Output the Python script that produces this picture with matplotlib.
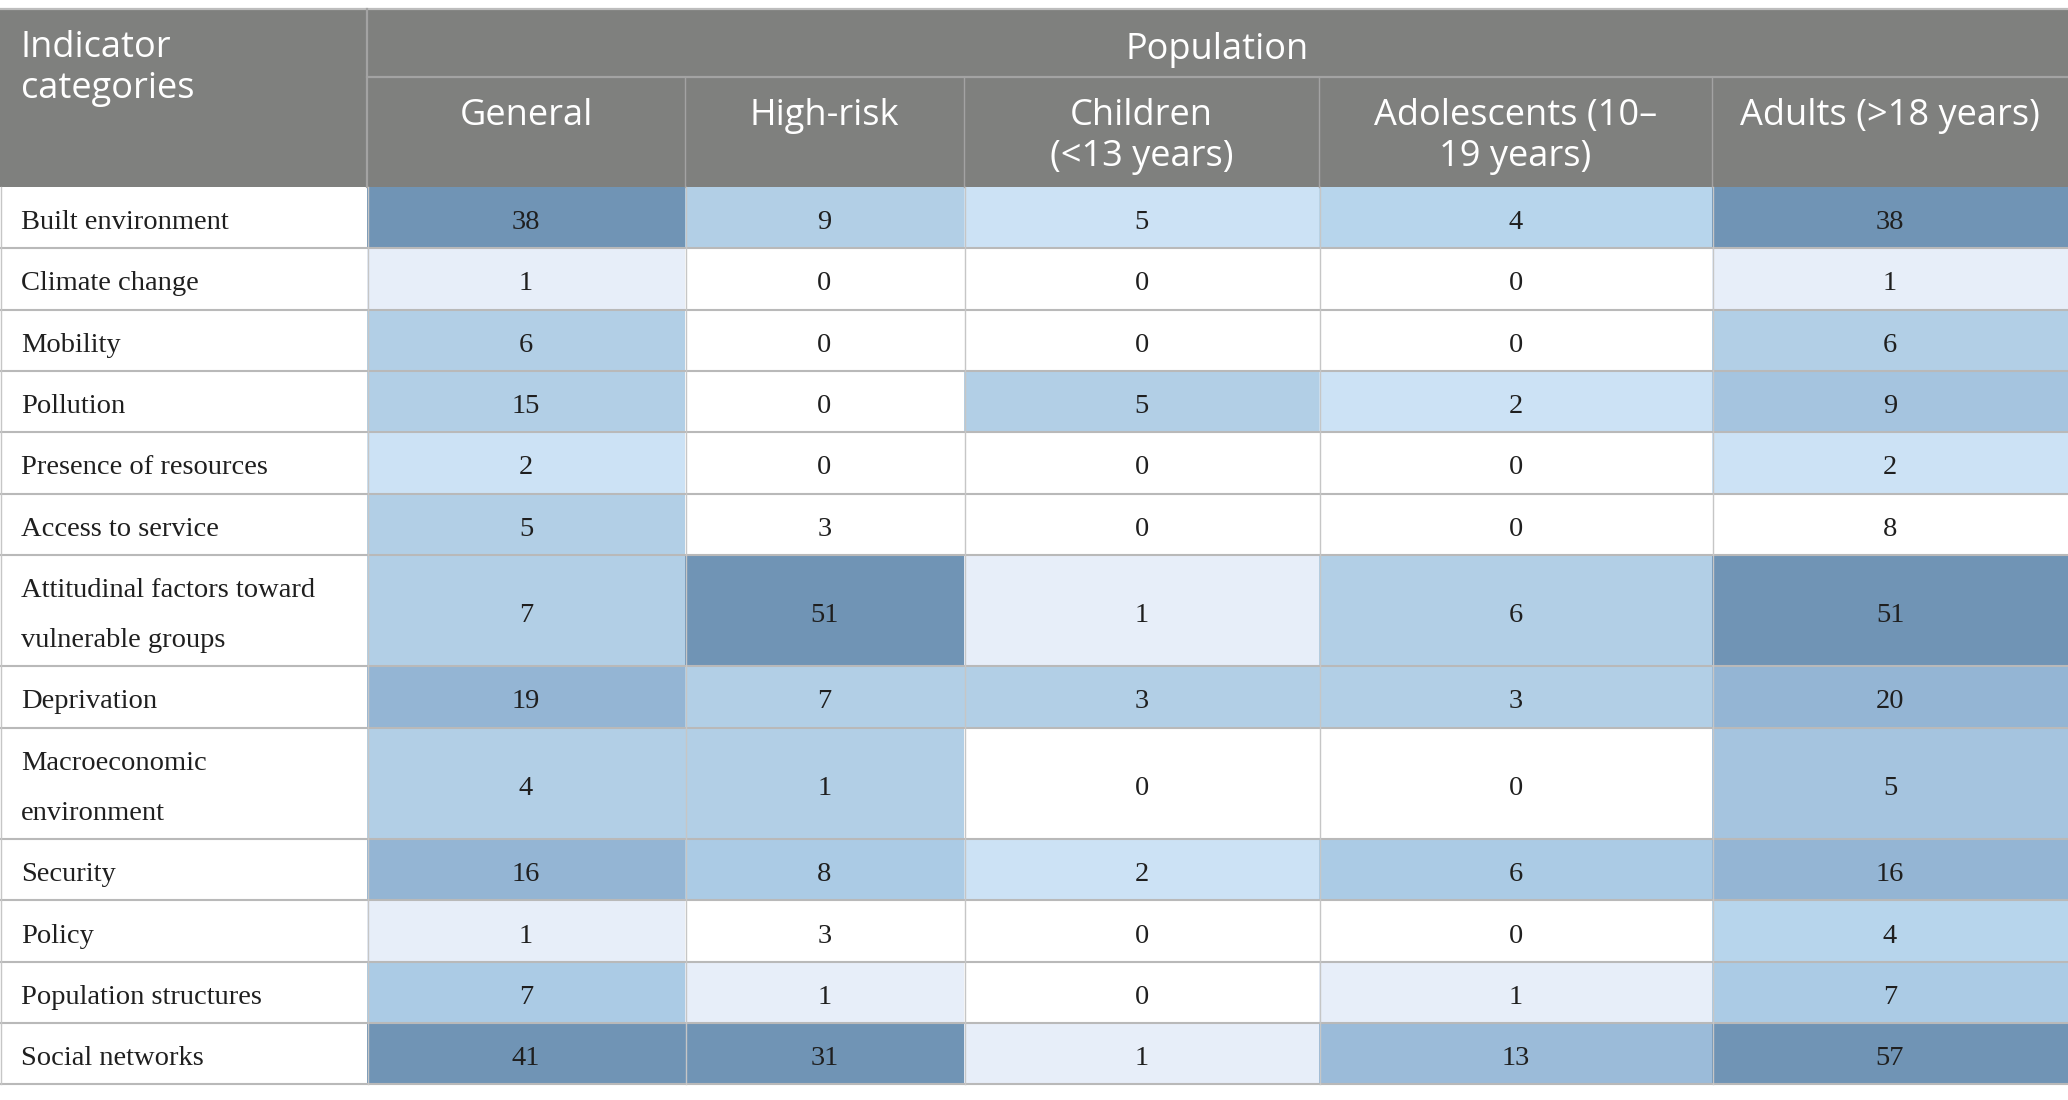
import matplotlib

matplotlib.use("Agg")

import numpy as np
import matplotlib.pyplot as plt
from matplotlib.colors import ListedColormap

# data
categories = [
    "Built environment",
    "Climate change",
    "Mobility",
    "Pollution",
    "Presence of resources",
    "Access to service",
    "Attitudinal factors toward\nvulnerable groups",
    "Deprivation",
    "Macroeconomic\nenvironment",
    "Security",
    "Policy",
    "Population structures",
    "Social networks",
]
populations = [
    "General",
    "High-risk",
    "Children\n(<13 years)",
    "Adolescents (10\u2013\n19 years)",
    "Adults (>18 years)",
]
counts = [
    [38, 9, 5, 4, 38],
    [1, 0, 0, 0, 1],
    [6, 0, 0, 0, 6],
    [15, 0, 5, 2, 9],
    [2, 0, 0, 0, 2],
    [5, 3, 0, 0, 8],
    [7, 51, 1, 6, 51],
    [19, 7, 3, 3, 20],
    [4, 1, 0, 0, 5],
    [16, 8, 2, 6, 16],
    [1, 3, 0, 0, 4],
    [7, 1, 0, 1, 7],
    [41, 31, 1, 13, 57],
]
# shading level of each cell as printed in the source table
shade = [
    [9, 4, 2, 3, 9],
    [1, 0, 0, 0, 1],
    [4, 0, 0, 0, 4],
    [4, 0, 4, 2, 6],
    [2, 0, 0, 0, 2],
    [4, 0, 0, 0, 0],
    [4, 9, 1, 4, 9],
    [7, 4, 4, 4, 7],
    [4, 4, 0, 0, 6],
    [7, 5, 2, 5, 7],
    [1, 0, 0, 0, 3],
    [5, 1, 0, 1, 5],
    [9, 9, 1, 8, 9],
]

palette = [
    "#ffffff", "#e7eef9", "#cce2f5", "#b7d5ec", "#b2cfe6",
    "#abcbe5", "#a5c4df", "#94b5d4", "#9bbbd9", "#7094b5",
]
HEADER_GRAY = "#7f807e"
SANS = ["Open Sans", "DejaVu Sans"]
SERIF = ["Liberation Serif", "DejaVu Serif"]

W, H = 2068, 1100
col_widths = [367, 318, 279, 355, 393, 356]
col_edges = np.concatenate([[0], np.cumsum(col_widths)])
top, pop_bottom, head_bottom = 9, 77, 187
row_heights = [111.5 if "\n" in c else 61.3 for c in categories]
row_edges = head_bottom + np.concatenate([[0], np.cumsum(row_heights)])

fig = plt.figure(figsize=(W / 100, H / 100), dpi=100)
ax = fig.add_axes([0, 0, 1, 1])
ax.set_xlim(0, W)
ax.set_ylim(H, 0)
ax.axis("off")

# header block
ax.fill_between([0, W], top, head_bottom, color=HEADER_GRAY, lw=0, zorder=1)
ax.plot([0, W], [top - 0.5, top - 0.5], color="#bdbdbd", lw=1.6, zorder=3)
ax.plot([col_edges[1], W], [pop_bottom, pop_bottom], color="#a3a3a3", lw=1.6, zorder=3)
ax.plot([col_edges[1]] * 2, [top, head_bottom], color="#a3a3a3", lw=1.6, zorder=3)
for x in col_edges[2:-1]:
    ax.plot([x, x], [pop_bottom, head_bottom], color="#a3a3a3", lw=1.0, zorder=3)

ax.text(21, 30, "Indicator\ncategories", family=SANS, fontsize=26, color="white",
        ha="left", va="top", linespacing=1.2, zorder=4)
ax.text((col_edges[1] + W) / 2, 50, "Population", family=SANS, fontsize=26,
        color="white", ha="center", va="center", zorder=4)
for j, label in enumerate(populations):
    cx = (col_edges[j + 1] + col_edges[j + 2]) / 2
    ax.text(cx, 98, label, family=SANS, fontsize=26, color="white",
            ha="center", va="top", linespacing=1.2, zorder=4)

# body cells
cmap = ListedColormap(palette)
ax.pcolormesh(col_edges[1:], row_edges, np.array(shade), cmap=cmap,
              vmin=-0.5, vmax=len(palette) - 0.5, zorder=1)

for i, label in enumerate(categories):
    cy = (row_edges[i] + row_edges[i + 1]) / 2 + 5
    ax.text(21, cy, label, family=SERIF, fontsize=20.5, color="#1f1f1f",
            ha="left", va="center", linespacing=2.3, zorder=4)
    for j, v in enumerate(counts[i]):
        cx = (col_edges[j + 1] + col_edges[j + 2]) / 2
        ax.text(cx, cy, str(v), family=SERIF, fontsize=20.5, color="#1f1f1f",
                ha="center", va="center", zorder=4)

# grid lines
for y in row_edges[1:]:
    ax.plot([0, W], [y, y], color="#b9b9b9", lw=1.5, zorder=3)
for x in col_edges[:-1]:
    ax.plot([x + 0.5, x + 0.5], [head_bottom, row_edges[-1]], color="#c6c6c6", lw=1.0, zorder=3)

fig.savefig("out.png", dpi=100)
plt.close(fig)
